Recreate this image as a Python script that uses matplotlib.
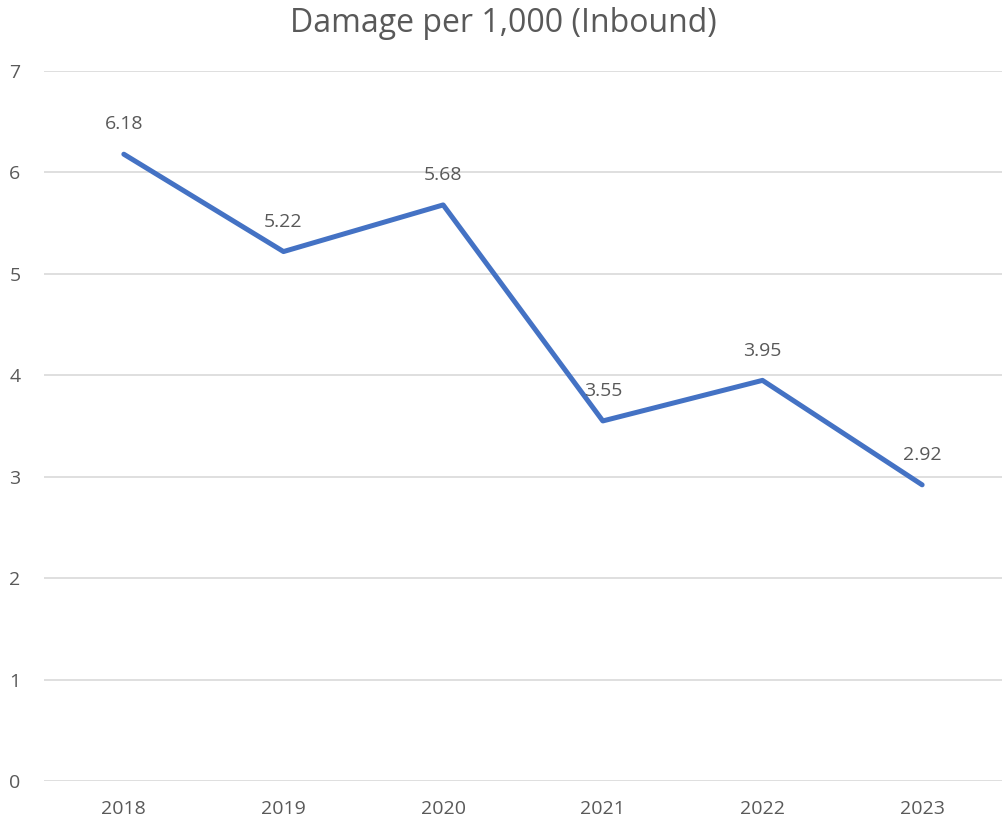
import matplotlib.pyplot as plt

years = ["2018", "2019", "2020", "2021", "2022", "2023"]
damage = [6.18, 5.22, 5.68, 3.55, 3.95, 2.92]

plt.rcParams['font.family'] = ['Open Sans', 'DejaVu Sans']
text_color = "#595959"

fig = plt.figure(figsize=(10.07, 8.26), dpi=100)
ax = fig.add_axes([0.0437, 0.0545, 0.9513, 0.8595])

x = list(range(len(years)))
ax.plot(x, damage, color="#4472C4", linewidth=3.6, solid_capstyle="round", zorder=3)

for xi, v in zip(x, damage):
    ax.annotate(f"{v:.2f}", (xi, v), xytext=(0, 15), textcoords="offset points",
                ha="center", va="bottom", fontsize=14, color=text_color)

ax.set_xlim(-0.5, len(years) - 0.5)
ax.set_ylim(0, 7)
ax.set_yticks(range(0, 8))
ax.set_xticks(x)
ax.set_xticklabels(years)
ax.tick_params(length=0, labelsize=14, labelcolor=text_color)
ax.tick_params(axis="y", pad=17)
ax.tick_params(axis="x", pad=14)
ax.grid(axis="y", color="#d9d9d9", linewidth=1.2)
ax.set_axisbelow(True)
for s in ax.spines.values():
    s.set_visible(False)

fig.suptitle("Damage per 1,000 (Inbound)", y=0.972, va="center", fontsize=23, color=text_color)

fig.savefig("out.png", dpi=100)
